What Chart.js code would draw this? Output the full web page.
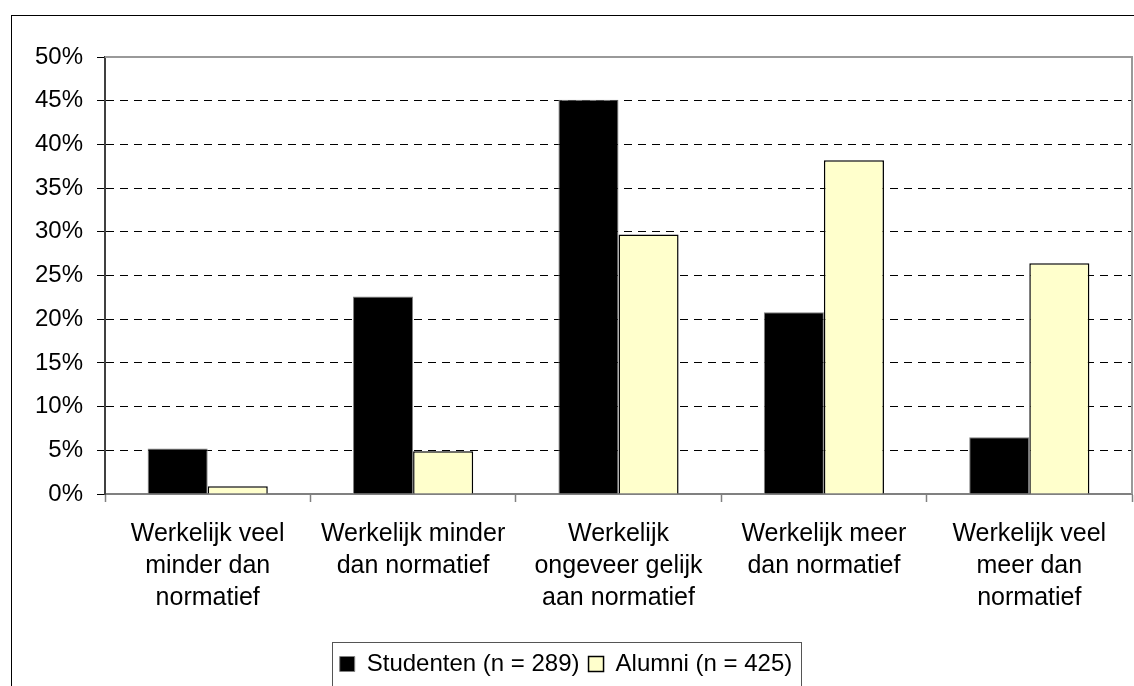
<!DOCTYPE html>
<html>
<head>
<meta charset="utf-8">
<script src="https://cdn.jsdelivr.net/npm/chart.js@4"></script>
<style>
  body { margin: 0; background: #fff; }
  #wrap { width: 1134px; height: 686px; }
</style>
</head>
<body>
<div id="wrap"><canvas id="myChart" width="1134" height="686"></canvas></div>
<script>
// Gegevens
const categorieen = [
    ["Werkelijk veel", "minder dan", "normatief"],
    ["Werkelijk minder", "dan normatief"],
    ["Werkelijk", "ongeveer gelijk", "aan normatief"],
    ["Werkelijk meer", "dan normatief"],
    ["Werkelijk veel", "meer dan", "normatief"]
];
const studenten = [5.2, 22.6, 45.1, 20.8, 6.5];
const alumni = [0.9, 4.9, 29.7, 38.2, 26.4];
const yTicks = [0, 5, 10, 15, 20, 25, 30, 35, 40, 45, 50];

const fontFam = "'Liberation Sans', Arial, sans-serif";

// kaders: buitenrand, plotrand en legendakader
const kaders = {
    id: 'kaders',
    beforeDatasetsDraw(chart) {
        const { ctx, chartArea } = chart;
        ctx.save();
        ctx.strokeStyle = '#999';
        ctx.lineWidth = 2;
        ctx.beginPath();
        ctx.moveTo(chartArea.left, chartArea.top);
        ctx.lineTo(chartArea.right, chartArea.top);
        ctx.lineTo(chartArea.right, chartArea.bottom);
        ctx.stroke();
        ctx.restore();
    },
    afterDraw(chart) {
        const { ctx } = chart;
        ctx.save();
        ctx.strokeStyle = '#000';
        ctx.lineWidth = 1;
        ctx.strokeRect(11.5, 15.5, 1200, 800);
        const boxes = chart.legend.legendHitBoxes;
        if (boxes && boxes.length) {
            const first = boxes[0];
            const last = boxes[boxes.length - 1];
            ctx.strokeStyle = '#555';
            ctx.strokeRect(Math.round(first.left - 8) + 0.5, Math.round(first.top - 10) + 0.5,
                Math.round(last.left + last.width - first.left + 16), 200);
        }
        ctx.restore();
    }
};

const ctx = document.getElementById('myChart');
new Chart(ctx, {
    type: 'bar',
    data: {
        labels: categorieen,
        datasets: [{
            label: 'Studenten (n = 289)',
            data: studenten,
            backgroundColor: '#000000',
            borderColor: '#808080',
            borderWidth: 1
        }, {
            label: 'Alumni (n = 425)',
            data: alumni,
            backgroundColor: '#FFFFCC',
            borderColor: '#000000',
            borderWidth: 1.5
        }]
    },
    options: {
        responsive: false,
        animation: false,
        devicePixelRatio: 1,
        categoryPercentage: 0.585,
        barPercentage: 1.0,
        layout: { padding: { left: 0, right: 2, top: 57, bottom: 0 } },
        plugins: {
            tooltip: { enabled: false },
            legend: {
                position: 'bottom',
                labels: {
                    color: '#000',
                    boxWidth: 15,
                    boxHeight: 15,
                    padding: 9,
                    font: { family: fontFam, size: 24 }
                }
            }
        },
        scales: {
            x: {
                afterFit(scale) {
                    scale.height = 686 - 494 - scale.chart.legend.height;
                },
                grid: {
                    drawOnChartArea: false,
                    drawTicks: true,
                    tickLength: 8,
                    tickColor: '#808080',
                    tickWidth: 1.5
                },
                border: { color: '#808080', width: 2 },
                ticks: {
                    color: '#000',
                    padding: 16,
                    maxRotation: 0,
                    autoSkip: false,
                    font: { family: fontFam, size: 25, lineHeight: 1.28 }
                }
            },
            y: {
                min: 0,
                max: 50,
                afterFit(scale) {
                    scale.width = 105;
                },
                afterBuildTicks(scale) {
                    scale.ticks = yTicks.map(v => ({ value: v }));
                },
                grid: {
                    color: '#000',
                    lineWidth: 1,
                    tickLength: 8,
                    tickColor: '#000',
                    tickBorderDash: []
                },
                border: { color: '#404040', width: 2, dash: [8, 6] },
                ticks: {
                    color: '#000',
                    padding: 14,
                    font: { family: fontFam, size: 24 },
                    callback: v => v + '%'
                }
            }
        }
    },
    plugins: [kaders]
});
</script>
</body>
</html>
